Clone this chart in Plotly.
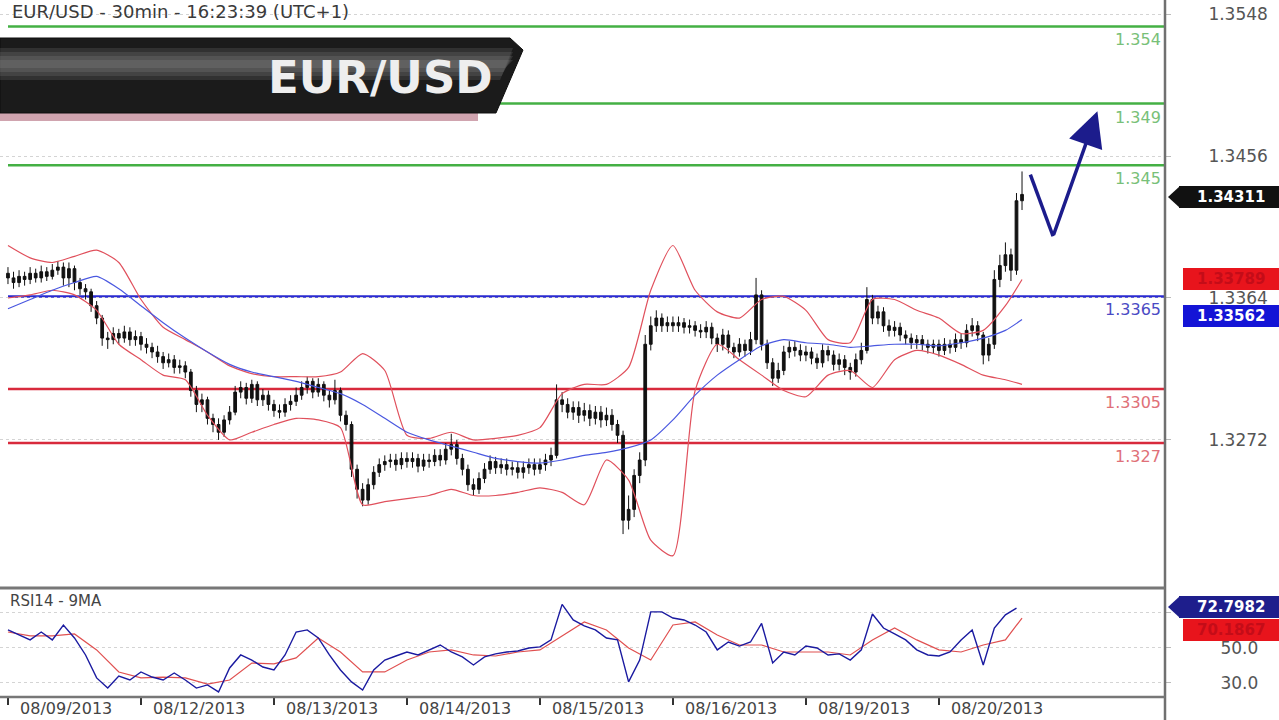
import plotly.graph_objects as go

# ---------------- data ----------------
day_labels = ["08/09/2013", "08/12/2013", "08/13/2013", "08/14/2013",
              "08/15/2013", "08/16/2013", "08/19/2013", "08/20/2013"]
bars_per_day = 24  # hourly bars

first_open = 1.3380
close = [
    1.3377, 1.3374, 1.3378, 1.3376, 1.3380, 1.3377, 1.3381, 1.3378, 1.3382, 1.3384,
    1.3377, 1.3383, 1.3374, 1.3370, 1.3368, 1.3359, 1.3351, 1.3338, 1.3337, 1.3341,
    1.3338, 1.3342, 1.3337, 1.3339,
    1.3334, 1.3332, 1.3329, 1.3326, 1.3322, 1.3324, 1.3319, 1.3320, 1.3316, 1.3304,
    1.3295, 1.3298, 1.3286, 1.3282, 1.3277, 1.3285, 1.3290, 1.3303, 1.3306, 1.3299,
    1.3308, 1.3298, 1.3301, 1.3295,
    1.3291, 1.3290, 1.3295, 1.3297, 1.3301, 1.3306, 1.3310, 1.3303, 1.3308, 1.3301,
    1.3298, 1.3304, 1.3288, 1.3282, 1.3253, 1.3240, 1.3233, 1.3243, 1.3251, 1.3256,
    1.3258, 1.3259, 1.3256, 1.3260,
    1.3258, 1.3260, 1.3255, 1.3259, 1.3258, 1.3262, 1.3259, 1.3266, 1.3269, 1.3260,
    1.3253, 1.3243, 1.3240, 1.3247, 1.3253, 1.3258, 1.3254, 1.3256, 1.3253, 1.3254,
    1.3251, 1.3254, 1.3256, 1.3253,
    1.3256, 1.3259, 1.3262, 1.3298, 1.3295, 1.3290, 1.3293, 1.3288, 1.3291, 1.3286,
    1.3290, 1.3285, 1.3288, 1.3282, 1.3275, 1.3220, 1.3227, 1.3249, 1.3259, 1.3334,
    1.3346, 1.3351, 1.3346, 1.3348,
    1.3346, 1.3348, 1.3345, 1.3346, 1.3343, 1.3342, 1.3345, 1.3338, 1.3334, 1.3340,
    1.3332, 1.3329, 1.3334, 1.3330, 1.3337, 1.3366, 1.3334, 1.3322, 1.3312, 1.3317,
    1.3329, 1.3332, 1.3330, 1.3327,
    1.3329, 1.3325, 1.3322, 1.3330, 1.3327, 1.3321, 1.3324, 1.3319, 1.3316, 1.3324,
    1.3330, 1.3363, 1.3351, 1.3355, 1.3346, 1.3343, 1.3345, 1.3340, 1.3338, 1.3335,
    1.3337, 1.3334, 1.3332, 1.3334,
    1.3330, 1.3334, 1.3332, 1.3337, 1.3335, 1.3343, 1.3346, 1.3340, 1.3327, 1.3334,
    1.3376, 1.3385, 1.3392, 1.3382, 1.3427, 1.34311,
]
high = [
    1.3384, 1.3381, 1.3382, 1.3381, 1.3384, 1.3383, 1.3385, 1.3384, 1.3386, 1.3388,
    1.3387, 1.3387, 1.3385, 1.3377, 1.3373, 1.3370, 1.3362, 1.3353, 1.3342, 1.3345,
    1.3344, 1.3346, 1.3345, 1.3343,
    1.3342, 1.3338, 1.3335, 1.3333, 1.3329, 1.3328, 1.3327, 1.3324, 1.3323, 1.3318,
    1.3307, 1.3302, 1.3300, 1.3289, 1.3286, 1.3288, 1.3294, 1.3307, 1.3310, 1.3309,
    1.3311, 1.3310, 1.3305, 1.3304,
    1.3298, 1.3295, 1.3299, 1.3301, 1.3306, 1.3310, 1.3313, 1.3312, 1.3312, 1.3310,
    1.3304, 1.3311, 1.3306, 1.3291, 1.3284, 1.3256, 1.3244, 1.3247, 1.3255, 1.3260,
    1.3262, 1.3263, 1.3263, 1.3264,
    1.3264, 1.3264, 1.3263, 1.3263, 1.3263, 1.3266, 1.3266, 1.3270, 1.3276, 1.3272,
    1.3263, 1.3256, 1.3247, 1.3251, 1.3257, 1.3262, 1.3261, 1.3260, 1.3260, 1.3258,
    1.3258, 1.3258, 1.3260, 1.3260,
    1.3260, 1.3263, 1.3267, 1.3308, 1.3303, 1.3299, 1.3297, 1.3297, 1.3296, 1.3295,
    1.3294, 1.3294, 1.3293, 1.3292, 1.3285, 1.3278, 1.3236, 1.3253, 1.3264, 1.3340,
    1.3352, 1.3356, 1.3354, 1.3352,
    1.3352, 1.3352, 1.3351, 1.3350, 1.3349, 1.3347, 1.3349, 1.3348, 1.3341, 1.3344,
    1.3343, 1.3335, 1.3338, 1.3337, 1.3342, 1.3377, 1.3369, 1.3337, 1.3325, 1.3322,
    1.3333, 1.3336, 1.3336, 1.3334,
    1.3333, 1.3332, 1.3328, 1.3334, 1.3333, 1.3330, 1.3328, 1.3327, 1.3322, 1.3328,
    1.3335, 1.3371, 1.3366, 1.3359, 1.3358, 1.3350, 1.3349, 1.3348, 1.3343, 1.3341,
    1.3340, 1.3340, 1.3337, 1.3337,
    1.3337, 1.3338, 1.3337, 1.3341, 1.3341, 1.3347, 1.3351, 1.3349, 1.3342, 1.3338,
    1.3382, 1.3392, 1.3400, 1.3396, 1.3432, 1.3446,
]
low = [
    1.3373, 1.3370, 1.3371, 1.3372, 1.3373, 1.3374, 1.3374, 1.3375, 1.3376, 1.3379,
    1.3372, 1.3371, 1.3369, 1.3366, 1.3363, 1.3355, 1.3347, 1.3333, 1.3331, 1.3334,
    1.3334, 1.3335, 1.3333, 1.3333,
    1.3330, 1.3328, 1.3325, 1.3322, 1.3318, 1.3319, 1.3315, 1.3315, 1.3312, 1.3300,
    1.3290, 1.3290, 1.3282, 1.3277, 1.3272, 1.3274, 1.3282, 1.3288, 1.3299, 1.3295,
    1.3296, 1.3294, 1.3294, 1.3291,
    1.3287, 1.3286, 1.3287, 1.3291, 1.3294, 1.3298, 1.3302, 1.3299, 1.3300, 1.3297,
    1.3293, 1.3295, 1.3284, 1.3278, 1.3248, 1.3234, 1.3229, 1.3230, 1.3240, 1.3248,
    1.3252, 1.3254, 1.3252, 1.3253,
    1.3254, 1.3254, 1.3251, 1.3252, 1.3254, 1.3255, 1.3255, 1.3256, 1.3262, 1.3256,
    1.3249, 1.3239, 1.3236, 1.3237, 1.3244, 1.3250, 1.3250, 1.3250, 1.3249, 1.3249,
    1.3247, 1.3247, 1.3250, 1.3249,
    1.3250, 1.3252, 1.3255, 1.3260, 1.3290, 1.3286, 1.3285, 1.3283, 1.3284, 1.3281,
    1.3282, 1.3280, 1.3281, 1.3278, 1.3270, 1.3211, 1.3214, 1.3222, 1.3244, 1.3255,
    1.3330, 1.3342, 1.3342, 1.3342,
    1.3342, 1.3342, 1.3341, 1.3341, 1.3339, 1.3338, 1.3338, 1.3334, 1.3329, 1.3330,
    1.3328, 1.3325, 1.3326, 1.3326, 1.3327, 1.3334, 1.3330, 1.3318, 1.3307, 1.3309,
    1.3314, 1.3325, 1.3326, 1.3323,
    1.3323, 1.3321, 1.3318, 1.3319, 1.3323, 1.3317, 1.3317, 1.3314, 1.3311, 1.3313,
    1.3321, 1.3328, 1.3347, 1.3347, 1.3342, 1.3339, 1.3339, 1.3336, 1.3334, 1.3331,
    1.3331, 1.3330, 1.3328, 1.3328,
    1.3326, 1.3327, 1.3328, 1.3329, 1.3331, 1.3332, 1.3339, 1.3336, 1.3321, 1.3323,
    1.3331, 1.3371, 1.3381, 1.3375, 1.3379, 1.3421,
]

# indicator lines, sampled every 4 bars (plus the last bar)
band_bars = list(range(0, 184, 4)) + [183]
upper_band = [
    1.3398, 1.3390, 1.3387, 1.3391, 1.3395, 1.3387, 1.3363, 1.3345, 1.3337, 1.3329,
    1.3320, 1.3315, 1.3313, 1.3313, 1.3313, 1.3316, 1.3328, 1.3317, 1.3275, 1.3273,
    1.3277, 1.3272, 1.3273, 1.3275, 1.3280, 1.3302, 1.3308, 1.3308, 1.3319, 1.3369,
    1.3398, 1.3369, 1.3355, 1.3351, 1.3363, 1.3365, 1.3356, 1.3337, 1.3335, 1.3363,
    1.3363, 1.3356, 1.3351, 1.3341, 1.3343, 1.3359, 1.3376,
]
lower_band = [
    1.3364, 1.3366, 1.3369, 1.3366, 1.3356, 1.3334, 1.3324, 1.3314, 1.3311, 1.3288,
    1.3272, 1.3277, 1.3282, 1.3286, 1.3285, 1.3280, 1.3230, 1.3232, 1.3234, 1.3236,
    1.3240, 1.3236, 1.3236, 1.3238, 1.3241, 1.3238, 1.3230, 1.3259, 1.3246, 1.3207,
    1.3197, 1.3304, 1.3334, 1.3324, 1.3314, 1.3304, 1.3300, 1.3314, 1.3317, 1.3306,
    1.3324, 1.3330, 1.3327, 1.3321, 1.3314, 1.3311, 1.3308,
]
moving_avg = [
    1.3357, 1.3363, 1.3369, 1.3374, 1.3378, 1.3370, 1.3359, 1.3348, 1.3338, 1.3329,
    1.3321, 1.3316, 1.3313, 1.3310, 1.3306, 1.3302, 1.3295, 1.3286, 1.3277, 1.3272,
    1.3268, 1.3264, 1.3260, 1.3258, 1.3257, 1.3259, 1.3262, 1.3264, 1.3267, 1.3272,
    1.3285, 1.3301, 1.3314, 1.3324, 1.3333, 1.3337, 1.3335, 1.3334, 1.3332, 1.3333,
    1.3334, 1.3334, 1.3333, 1.3335, 1.3338, 1.3343, 1.3350,
]

# RSI(14), sampled every 2 bars; its 9-period MA sampled like the bands
rsi_bars = list(range(0, 184, 2))
rsi = [
    60.3, 57.4, 54.6, 59.1, 54.6, 63.1, 55.7, 46.0, 32.9, 27.1,
    34.0, 31.7, 36.3, 33.4, 31.7, 35.7, 31.7, 27.1, 28.9, 24.9,
    38.6, 46.0, 43.1, 39.1, 37.4, 46.0, 59.1, 60.3, 55.7, 46.0,
    37.4, 30.6, 26.0, 37.4, 43.1, 45.4, 47.7, 46.0, 48.9, 51.7,
    47.7, 44.9, 40.3, 44.9, 46.6, 47.7, 48.3, 50.0, 50.6, 54.6,
    74.9, 66.0, 62.6, 60.3, 55.7, 54.6, 30.6, 43.1, 70.6, 70.6,
    67.1, 66.0, 63.1, 59.1, 48.9, 53.4, 51.1, 53.4, 64.0, 41.4,
    47.7, 46.0, 51.1, 50.0, 46.0, 46.6, 43.1, 48.9, 69.4, 61.4,
    58.0, 54.6, 48.9, 46.0, 45.4, 47.7, 54.6, 60.3, 40.3, 61.4,
    68.9, 72.8,
]
rsi_ma = [
    59.1, 56.9, 56.9, 58.0, 48.9, 36.3, 32.9, 33.4, 32.9, 29.4,
    31.7, 41.4, 40.9, 44.3, 55.7, 47.7, 36.3, 36.3, 43.1, 47.7,
    48.9, 46.0, 45.4, 47.7, 48.9, 56.9, 64.9, 60.3, 50.0, 43.1,
    63.1, 64.9, 57.4, 51.7, 51.7, 47.7, 47.7, 47.7, 46.0, 54.6,
    61.4, 54.6, 48.9, 47.7, 51.7, 54.6, 67.1,
]

green_levels = [1.354, 1.349, 1.345]
green_level_text = ["1.354", "1.349", "1.345"]
blue_levels = [1.3365]
blue_level_text = ["1.3365"]
red_levels = [1.3305, 1.327]
red_level_text = ["1.3305", "1.327"]

price_ticks = [1.3272, 1.3364, 1.3456, 1.3548]
rsi_ticks = [30, 50, 70]
rsi_tick_text = ["30.0", "50.0", ""]

last_close_text = "1.34311"
upper_last_text = "1.33789"
ma_last_text = "1.33562"
rsi_last_text = "72.7982"
rsi_ma_last_text = "70.1867"

forecast_x = [184.5, 188.6, 196.6]
forecast_y = [1.3444, 1.3404, 1.3485]

title_text = "EUR/USD - 30min - 16:23:39 (UTC+1)"
banner_text = "EUR/USD"
rsi_title = "RSI14 - 9MA"

# ---------------- helpers (pixel -> paper for decoration) ----------------
PLOT_W, PLOT_H = 1165, 697


def px(x):
    return x / PLOT_W


def py(y):
    return (PLOT_H - y) / PLOT_H


def path(points):
    s = "M " + " L ".join(f"{px(a):.5f},{py(b):.5f}" for a, b in points)
    return s + " Z"


bar_index = list(range(len(close)))
open_ = [first_open] + close[:-1]
FONT = "DejaVu Sans"

fig = go.Figure()

fig.add_trace(go.Candlestick(
    x=bar_index, open=open_, high=high, low=low, close=close,
    increasing=dict(line=dict(color="#111111", width=1), fillcolor="#111111"),
    decreasing=dict(line=dict(color="#111111", width=1), fillcolor="#111111"),
    whiskerwidth=0, xaxis="x", yaxis="y", hoverinfo="skip"))

for series in (upper_band, lower_band):
    fig.add_trace(go.Scatter(x=band_bars, y=series, mode="lines",
                             line=dict(color="#e0505c", width=1.2, shape="spline",
                                       smoothing=0.6),
                             xaxis="x", yaxis="y", hoverinfo="skip"))
fig.add_trace(go.Scatter(x=band_bars, y=moving_avg, mode="lines",
                         line=dict(color="#4a58e0", width=1.2, shape="spline",
                                   smoothing=0.6),
                         xaxis="x", yaxis="y", hoverinfo="skip"))

# forecast path (first leg as a line, second leg as an arrow)
fig.add_trace(go.Scatter(x=forecast_x[:2], y=forecast_y[:2], mode="lines",
                         line=dict(color="#1c1c8c", width=3.5),
                         xaxis="x", yaxis="y", hoverinfo="skip"))

# RSI panel
fig.add_trace(go.Scatter(x=band_bars, y=rsi_ma, mode="lines",
                         line=dict(color="#e05050", width=1.2),
                         xaxis="x2", yaxis="y2", hoverinfo="skip"))
fig.add_trace(go.Scatter(x=rsi_bars, y=rsi, mode="lines",
                         line=dict(color="#1a1aa0", width=1.4),
                         xaxis="x2", yaxis="y2", hoverinfo="skip"))

n_days = len(day_labels)
day_starts = [d * bars_per_day for d in range(n_days)]
xrange_ = [-1.44, 208.8]

fig.update_layout(
    width=1279, height=720,
    margin=dict(l=0, r=114, t=0, b=23),
    paper_bgcolor="white", plot_bgcolor="white",
    showlegend=False,
    hovermode=False,
    font=dict(family=FONT, color="#444444"),
    xaxis=dict(domain=[0, 1], anchor="y", range=xrange_, showticklabels=False,
               showgrid=False, zeroline=False, ticks="", showline=False,
               rangeslider=dict(visible=False)),
    yaxis=dict(domain=[py(587), 1], range=[1.31767, 1.35571], side="right",
               tickvals=price_ticks, ticktext=[f"{v:.4f}" for v in price_ticks],
               showgrid=True, gridcolor="#d4d4d4", griddash="dot", gridwidth=1,
               zeroline=False, ticks="outside", ticklen=5, tickcolor="#bbbbbb",
               ticklabelstandoff=34,
               tickfont=dict(family=FONT, size=17, color="#555555")),
    xaxis2=dict(domain=[0, 1], anchor="y2", range=xrange_, matches="x",
                tickvals=[s + 10.5 for s in day_starts], ticktext=day_labels,
                ticks="", showgrid=False, zeroline=False, showline=False,
                tickfont=dict(family=FONT, size=16, color="#444444"),
                minor=dict(tickvals=day_starts, ticks="outside", ticklen=7,
                           tickwidth=2, tickcolor="#333333", showgrid=False)),
    yaxis2=dict(domain=[0, py(590)], range=[22, 83.1], side="right",
                tickvals=rsi_ticks, ticktext=rsi_tick_text,
                showgrid=True, gridcolor="#d4d4d4", griddash="dot",
                zeroline=False, ticks="outside", ticklen=5, tickcolor="#bbbbbb",
                ticklabelstandoff=46,
                tickfont=dict(family=FONT, size=17, color="#555555")),
)

shapes = []
annotations = []

# horizontal support / resistance levels
for levels, texts, lcol, tcol in (
        (green_levels, green_level_text, "#44b044", "#78c078"),
        (blue_levels, blue_level_text, "#2a2ad0", "#4a4ac4"),
        (red_levels, red_level_text, "#d82a3c", "#e07078")):
    for lv, tx in zip(levels, texts):
        shapes.append(dict(type="line", xref="paper", yref="y",
                           x0=px(8), x1=1, y0=lv, y1=lv, layer="below",
                           line=dict(color=lcol, width=2.5)))
        annotations.append(dict(x=px(1163), y=lv, xref="paper", yref="y",
                                text=tx, showarrow=False, xanchor="right",
                                yanchor="top", yshift=-2,
                                font=dict(family=FONT, size=16, color=tcol)))

# banner
shapes.append(dict(type="path", xref="paper", yref="paper", layer="above",
                   path=path([(0, 112), (478, 112), (478, 121), (0, 121)]),
                   fillcolor="rgba(170,90,110,0.55)", line=dict(width=0)))
shapes.append(dict(type="path", xref="paper", yref="paper", layer="above",
                   path=path([(0, 38), (510, 38), (523, 50), (496, 113), (0, 113)]),
                   fillcolor="#1b1b1b", line=dict(color="#0e0e0e", width=1)))
for (y0, y1, a) in ((48, 80, 0.18), (52, 76, 0.18), (56, 72, 0.2), (60, 68, 0.2)):
    shapes.append(dict(type="path", xref="paper", yref="paper", layer="above",
                       path=path([(0, y0), (513, y0), (513 - (y1 - 50) * 0.43, y1),
                                  (0, y1)]),
                       fillcolor=f"rgba(150,150,150,{a})", line=dict(width=0)))
annotations.append(dict(x=px(380), y=py(77), xref="paper", yref="paper",
                        text=banner_text, showarrow=False, xanchor="center",
                        yanchor="middle",
                        font=dict(family=FONT, size=45, color="#eeeeee",
                                  weight="bold")))

# title and RSI caption
annotations.append(dict(x=px(10), y=py(12), xref="paper", yref="paper",
                        text=title_text, showarrow=False, xanchor="left",
                        yanchor="middle",
                        font=dict(family=FONT, size=18, color="#3a3a3a")))
annotations.append(dict(x=px(8), y=py(601), xref="paper", yref="paper",
                        text=rsi_title, showarrow=False, xanchor="left",
                        yanchor="middle",
                        font=dict(family=FONT, size=15, color="#444444")))

# forecast arrow head leg
annotations.append(dict(x=forecast_x[2], y=forecast_y[2], ax=forecast_x[1],
                        ay=forecast_y[1], xref="x", yref="y", axref="x",
                        ayref="y", text="", showarrow=True, arrowhead=2,
                        arrowsize=2.0, arrowwidth=3.5, arrowcolor="#1c1c8c"))

# panel borders
shapes.append(dict(type="line", xref="paper", yref="paper", x0=1, x1=1,
                   y0=py(720), y1=1, layer="above",
                   line=dict(color="#707070", width=2.5)))
shapes.append(dict(type="line", xref="paper", yref="paper", x0=0, x1=1,
                   y0=py(588), y1=py(588), layer="above",
                   line=dict(color="#777777", width=3)))
shapes.append(dict(type="line", xref="paper", yref="paper", x0=0, x1=1,
                   y0=py(697), y1=py(697), layer="above",
                   line=dict(color="#777777", width=2.5)))


def add_tag(text, cy, bg, fg, pointer):
    left = 1179 if pointer else 1183
    shapes.append(dict(type="path", xref="paper", yref="paper", layer="above",
                       path=path([(left, cy - 11), (1279, cy - 11),
                                  (1279, cy + 11), (left, cy + 11)]),
                       fillcolor=bg, line=dict(width=0)))
    if pointer:
        shapes.append(dict(type="path", xref="paper", yref="paper",
                           layer="above",
                           path=path([(1168, cy), (1180, cy - 11),
                                      (1180, cy + 11)]),
                           fillcolor=bg, line=dict(width=0)))
    annotations.append(dict(x=px(1231), y=py(cy), xref="paper", yref="paper",
                            text=text, showarrow=False, xanchor="center",
                            yanchor="middle",
                            font=dict(family=FONT, size=15, color=fg,
                                      weight="bold")))


add_tag(last_close_text, 197, "#111111", "#ffffff", True)
add_tag(upper_last_text, 279, "#e8141c", "#c40c18", False)
add_tag(ma_last_text, 316, "#1414d6", "#ffffff", False)
add_tag(rsi_last_text, 607, "#1e1e8c", "#ffffff", True)
add_tag(rsi_ma_last_text, 630, "#e8141c", "#c40c18", False)

fig.update_layout(shapes=shapes, annotations=annotations)

fig.write_html("out.html",
               config={"displayModeBar": False, "staticPlot": True},
               post_script="document.body.style.margin='0';"
                           "document.body.style.overflow='hidden';")
